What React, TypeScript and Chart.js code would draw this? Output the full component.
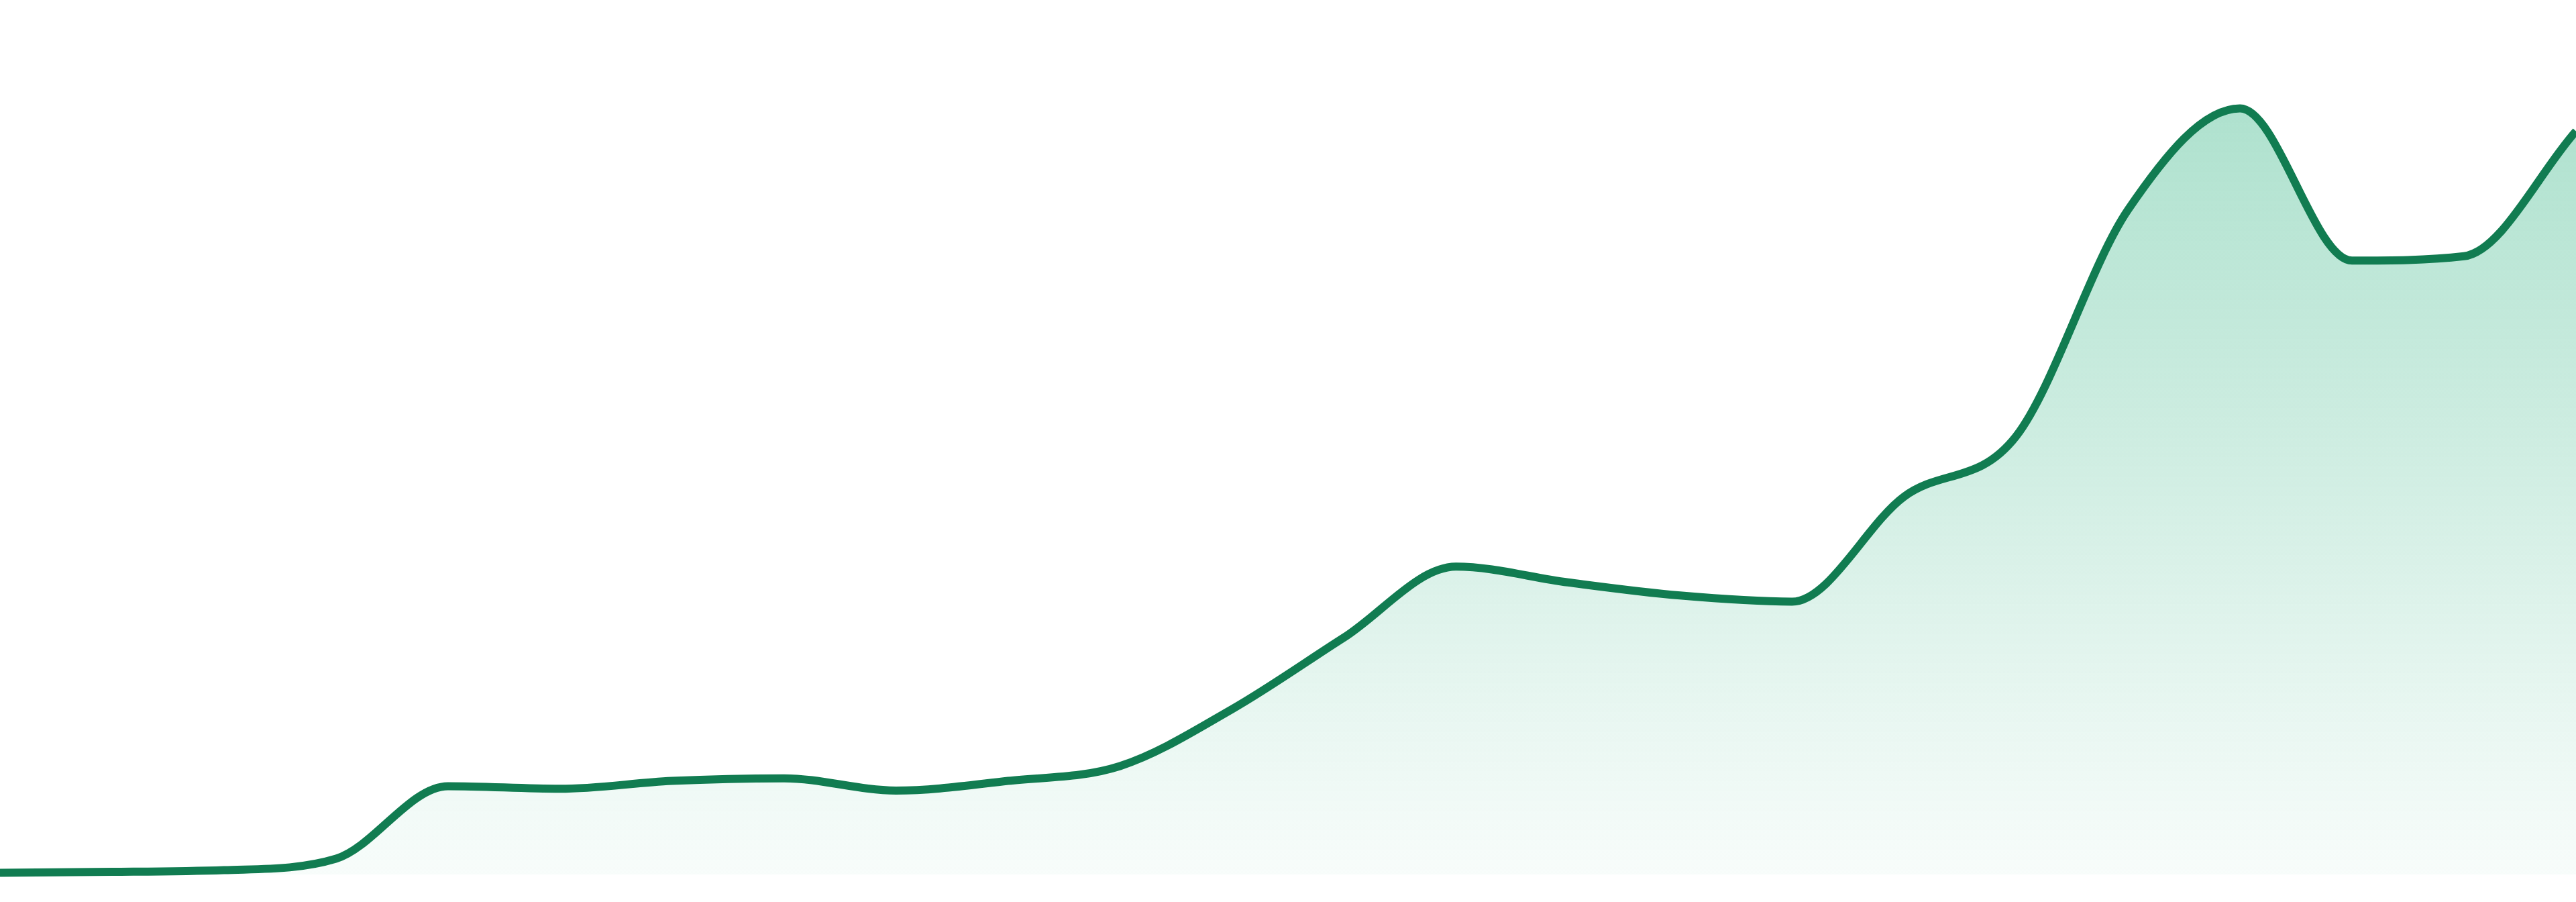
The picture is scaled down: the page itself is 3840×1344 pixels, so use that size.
import { useEffect, useRef } from "react"
import Chart from 'chart.js/auto';

// one value per period (scale 0..100)
const labels = [
    'Jan 23', 'Feb 23', 'Mar 23', 'Apr 23', 'May 23', 'Jun 23',
    'Jul 23', 'Aug 23', 'Sep 23', 'Oct 23', 'Nov 23', 'Dec 23',
    'Jan 24', 'Feb 24', 'Mar 24', 'Apr 24', 'May 24', 'Jun 24',
    'Jul 24', 'Aug 24', 'Sep 24', 'Oct 24', 'Nov 24', 'Dec 24'
];
const values = [
    0.2, 0.3, 0.5, 1.8, 10.1, 9.8,
    10.7, 11.0, 9.6, 10.7, 12.4, 18.9,
    27.1, 35.2, 33.4, 31.9, 31.2, 43.2,
    50.1, 76.0, 87.6, 70.2, 70.7, 85.0
];
const yMin = 0;
const yMax = 100;

const lineColor = '#117c51';

export default function App() {

    const canvasRef = useRef<HTMLCanvasElement>(null);

    useEffect(() => {
        document.body.style.margin = '0';

        const ctx = canvasRef.current;
        if (!ctx) return;

        const chart = new Chart(ctx, {
            type: 'line',
            data: {
                labels: labels,
                datasets: [{
                    data: values,
                    borderColor: lineColor,
                    borderWidth: 12,
                    pointRadius: 0,
                    pointHoverRadius: 0,
                    cubicInterpolationMode: 'monotone',
                    fill: 'start',
                    clip: false,
                    backgroundColor: (c: any) => {
                        const area = c.chart.chartArea;
                        if (!area) return 'rgba(16,167,110,0.2)';
                        const g = c.chart.ctx.createLinearGradient(0, area.top, 0, area.bottom);
                        g.addColorStop(0, 'rgba(16,167,110,0.38)');
                        g.addColorStop(1, 'rgba(16,167,110,0.03)');
                        return g;
                    }
                }]
            },
            options: {
                animation: false,
                responsive: true,
                maintainAspectRatio: false,
                layout: { padding: { top: 0, left: 0, right: 0, bottom: 41 } },
                plugins: {
                    legend: { display: false },
                    tooltip: { enabled: false }
                },
                scales: {
                    x: { display: false, offset: false },
                    y: { display: false, min: yMin, max: yMax }
                }
            }
        });

        return () => {
            chart.destroy();
        };
    }, []);

    return (
        <div style={{ position: 'relative', width: '3840px', height: '1344px' }}>
            <canvas ref={canvasRef}></canvas>
        </div>
    );
}
